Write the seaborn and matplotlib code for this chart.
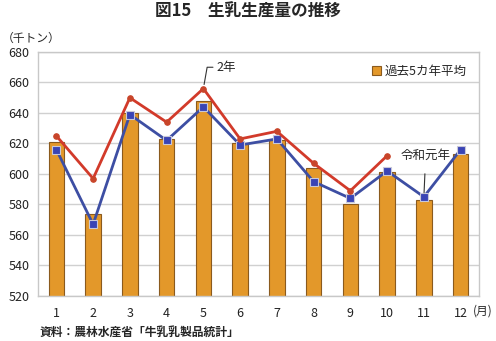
import numpy as np
import pandas as pd
import matplotlib
matplotlib.use("Agg")
import matplotlib.pyplot as plt
import seaborn as sns

months = ["1", "2", "3", "4", "5", "6", "7", "8", "9", "10", "11", "12"]
avg5 = [621, 574, 640, 623, 648, 620, 622, 604, 580, 601, 583, 613]
r1 = [616, 567, 639, 622, 644, 619, 623, 595, 584, 602, 585, 616]
r2 = [625, 597, 650, 634, 656, 623, 628, 607, 589, 612]

sns.set_theme(style="white")
plt.rcParams['font.family'] = ['Noto Sans CJK JP', 'DejaVu Sans']

fig = plt.figure(figsize=(4.96, 3.41), dpi=100)
ax = fig.add_axes([38/496, 1 - 296/341, 441/496, 244/341])

df = pd.DataFrame({"month": months, "avg": avg5})
sns.barplot(data=df, x="month", y="avg", ax=ax, color="#E3982A",
            edgecolor="#8A5A1E", linewidth=0.8, width=0.42, saturation=1,
            label="過去5カ年平均", zorder=2)

pos = np.arange(len(months))
sns.lineplot(x=pos[:len(r1)], y=r1, ax=ax, color="#3D4EA3", lw=2,
             marker="s", markersize=6, markerfacecolor="#3A44B5",
             markeredgecolor="#C8C8D8", markeredgewidth=0.8, zorder=3)
sns.lineplot(x=pos[:len(r2)], y=r2, ax=ax, color="#D23A2A", lw=2,
             marker="o", markersize=4, markerfacecolor="#C8452A",
             markeredgecolor="#C8452A", zorder=4)

ax.set_ylim(520, 680)
ax.set_yticks(np.arange(520, 681, 20))
ax.set_xlim(-0.5, 11.5)
ax.set_xlabel("")
ax.set_ylabel("")
ax.grid(axis="y", color="#D0D0D0", lw=1)
ax.set_axisbelow(True)
for s in ax.spines.values():
    s.set_color("#C8C8C8")
    s.set_linewidth(1)
ax.tick_params(axis="both", length=0, labelsize=9, colors="#222222", pad=6)
ax.tick_params(axis="x", pad=8)

# legend
leg = ax.legend(loc="upper right", frameon=False, fontsize=9, handlelength=0.7,
                handleheight=0.7, handletextpad=0.3, borderaxespad=0.6)

# annotations
ax.annotate("2年", xy=(4, r2[4]), xytext=(4.35, 670), fontsize=9,
            ha="left", va="center",
            arrowprops=dict(arrowstyle="-", color="#333333", lw=0.8,
                            shrinkA=0, shrinkB=3,
                            connectionstyle="angle,angleA=0,angleB=80,rad=0"))
ax.annotate("令和元年", xy=(10, r1[10]), xytext=(10.05, 612), fontsize=9,
            ha="center", va="center",
            arrowprops=dict(arrowstyle="-", color="#333333", lw=0.8,
                            shrinkA=6, shrinkB=3))

fig.text(0.5, 1 - 12/341, "図15　生乳生産量の推移", ha="center", va="center",
         fontsize=12, fontweight="bold")
fig.text(2/496, 1 - 38/341, "（千トン）", ha="left", va="center", fontsize=8.5)
fig.text(473/496, 1 - 311/341, "(月)", ha="left", va="center", fontsize=8.5)
fig.text(40/496, 1 - 332/341, "資料：農林水産省「牛乳乳製品統計」", ha="left",
         va="center", fontsize=8.5, fontweight="bold")

fig.savefig("out.png", dpi=100)
